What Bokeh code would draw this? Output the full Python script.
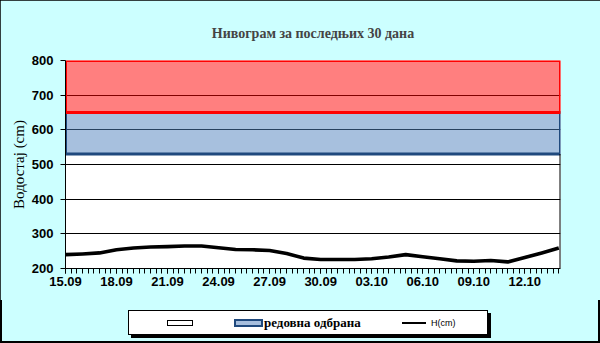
from bokeh.plotting import figure
from bokeh.models import Range1d, FixedTicker, Div
from bokeh.layouts import column
from bokeh.embed import file_html
from bokeh.resources import INLINE

# ---- data ----
day_index = list(range(30))  # 0 = 15.09
level_cm = [240, 242, 245, 254, 259, 262, 263, 265, 265, 260,
            255, 254, 252, 243, 230, 226, 226, 226, 228, 233,
            240, 234, 228, 222, 221, 223, 219, 232, 245, 259]
tick_days = [0, 3, 6, 9, 12, 15, 18, 21, 24, 27]
tick_labels = ["15.09", "18.09", "21.09", "24.09", "27.09",
               "30.09", "03.10", "06.10", "09.10", "12.10"]
regular_defence = [530, 650]   # редовна одбрана
emergency_defence = [650, 800]
y_ticks = [200, 300, 400, 500, 600, 700, 800]
legend_labels = ["", "редовна одбрана", "H(cm)"]

BG = "#CCFFFF"
x_end = 29.1
y_min = y_ticks[0]

p = figure(width=600, height=300, output_backend="svg", toolbar_location=None,
           x_range=Range1d(0, x_end), y_range=Range1d(y_ticks[0], y_ticks[-1]),
           min_border_left=65, min_border_right=40, min_border_top=60, min_border_bottom=32,
           background_fill_color="white", border_fill_color=BG,
           title="Нивограм за последњих 30 дана")
p.title.align = "center"
p.title.text_font = "Liberation Serif"
p.title.text_font_size = "14px"
p.title.text_font_style = "bold"
p.title.standoff = 40
p.outline_line_color = None

# bands
p.quad(left=0, right=x_end, bottom=regular_defence[0], top=regular_defence[1],
       fill_color="#4F81BD", fill_alpha=0.5, line_color="#1F497D", line_width=3)
p.quad(left=0, right=x_end, bottom=emergency_defence[0], top=emergency_defence[1],
       fill_color="#FF0000", fill_alpha=0.5, line_color="#FF0000", line_width=3)
# right edge of the plain (white) zone
p.segment(x0=[x_end], y0=[y_min], x1=[x_end], y1=[regular_defence[0]],
          line_color="black", line_width=2)

# water level
p.line(day_index, level_cm, line_color="black", line_width=3.6, line_join="round")

# grid
p.xgrid.visible = False
p.ygrid.grid_line_color = "black"
p.ygrid.grid_line_width = 1
p.ygrid.ticker = FixedTicker(ticks=y_ticks)

# axes
p.yaxis.ticker = FixedTicker(ticks=y_ticks)
p.yaxis.major_tick_out = 5
p.yaxis.major_tick_in = 0
p.yaxis.major_label_text_font = "Liberation Sans"
p.yaxis.major_label_text_font_style = "bold"
p.yaxis.major_label_text_font_size = "13px"
p.yaxis.major_label_standoff = 7
p.yaxis.axis_label = "Водостај (cm)"
p.yaxis.axis_label_text_font = "Liberation Serif"
p.yaxis.axis_label_text_font_style = "normal"
p.yaxis.axis_label_text_font_size = "15px"
p.yaxis.axis_label_standoff = 2

minor = [i / 3 for i in range(int(x_end * 3) + 1)]
p.xaxis.ticker = FixedTicker(ticks=tick_days, minor_ticks=minor)
p.xaxis.major_label_overrides = {d: l for d, l in zip(tick_days, tick_labels)}
p.xaxis.major_tick_out = 5
p.xaxis.major_tick_in = 0
p.xaxis.minor_tick_out = 5
p.xaxis.minor_tick_in = 0
p.xaxis.major_label_text_font = "Liberation Sans"
p.xaxis.major_label_text_font_style = "bold"
p.xaxis.major_label_text_font_size = "13px"
p.xaxis.major_label_standoff = 3
for ax in (p.xaxis[0], p.yaxis[0]):
    ax.axis_line_color = "black"
    ax.major_tick_line_color = "black"
    ax.major_label_text_color = "black"
    ax.axis_label_text_color = "black"
p.xaxis.minor_tick_line_color = "black"
p.yaxis.minor_tick_line_color = None

# ---- legend strip (HTML) ----
ab = "position:absolute;box-sizing:border-box;"
legend_html = f"""
<div style="position:relative;box-sizing:border-box;width:600px;height:43px;background:{BG};
 border-left:2px solid #000;border-right:2px solid #000;border-bottom:2px solid #000;">
 <div style="{ab}left:129px;top:13px;width:360px;height:25px;background:#000;"></div>
 <div style="{ab}left:126px;top:10px;width:360px;height:25px;background:#fff;border:1px solid #000;"></div>
 <div style="{ab}left:165px;top:20px;width:26px;height:6px;background:#fff;border:1px solid #000;"></div>
 <div style="{ab}left:232px;top:19px;width:29px;height:8px;background:#A7BFDE;border:2px solid #1F497D;"></div>
 <div style="{ab}left:262px;top:14px;height:18px;line-height:18px;white-space:nowrap;font-family:'Liberation Serif';font-weight:bold;font-size:13px;color:#000;">{legend_labels[1]}</div>
 <div style="{ab}left:400px;top:22px;width:24px;height:2px;background:#000;"></div>
 <div style="{ab}left:429px;top:18px;height:11px;line-height:11px;white-space:nowrap;font-family:'Liberation Sans';font-size:9px;color:#000;">{legend_labels[2]}</div>
</div>
"""
leg = Div(text=legend_html, width=600, height=43, styles={"margin": "0", "padding": "0"})

layout = column(p, leg, spacing=0, width=600, height=343,
                styles={"outline": "2px solid black", "outline-offset": "-2px",
                        "height": "343px", "min-height": "343px"})

open("out.html", "w").write(file_html(layout, INLINE))
